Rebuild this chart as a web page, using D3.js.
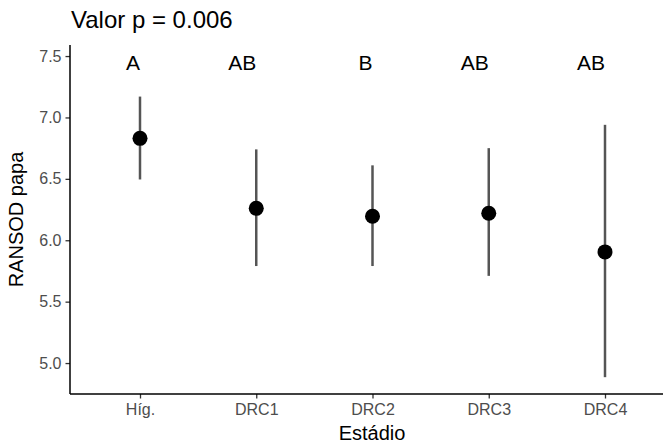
<!DOCTYPE html>
<html>
<head>
<meta charset="utf-8">
<script src="https://cdn.jsdelivr.net/npm/d3@7"></script>
<style>
  body { margin: 0; background: #fff; }
  svg text { font-family: "Liberation Sans", Arial, sans-serif; }
</style>
</head>
<body>
<svg id="chart" width="663" height="445"></svg>
<script>
var categories = ["Híg.", "DRC1", "DRC2", "DRC3", "DRC4"];
var means = [6.83, 6.26, 6.195, 6.22, 5.905];
var lower = [6.495, 5.79, 5.79, 5.71, 4.885];
var upper = [7.17, 6.74, 6.61, 6.75, 6.94];
var letters = ["A", "AB", "B", "AB", "AB"];
var yTicks = [5.0, 5.5, 6.0, 6.5, 7.0, 7.5];

var svg = d3.select("#chart");
var plotLeft = 70, plotRight = 674, plotTop = 45, plotBottom = 394;

var xScale = d3.scalePoint()
  .domain(categories)
  .range([140, 605]);

var yScale = d3.scaleLinear()
  .domain([4.748, 7.59])
  .range([plotBottom, plotTop]);

// axes
var yAxis = d3.axisLeft(yScale)
  .tickValues(yTicks)
  .tickFormat(d3.format(".1f"))
  .tickSize(4.5)
  .tickPadding(4);

var xAxis = d3.axisBottom(xScale)
  .tickSize(4.5)
  .tickPadding(5);

var gy = svg.append("g")
  .attr("transform", "translate(" + plotLeft + ",0)")
  .call(yAxis);
gy.select(".domain").remove();
gy.selectAll("text").attr("fill", "#4d4d4d").style("font-size", "16px");
gy.selectAll("line").attr("stroke", "#333").attr("stroke-width", 1.3);

var gx = svg.append("g")
  .attr("transform", "translate(0," + plotBottom + ")")
  .call(xAxis);
gx.select(".domain").remove();
gx.selectAll("text").attr("fill", "#4d4d4d").style("font-size", "16px");
gx.selectAll("line").attr("stroke", "#333").attr("stroke-width", 1.3);

svg.append("line")
  .attr("x1", plotLeft).attr("x2", plotLeft)
  .attr("y1", plotTop).attr("y2", plotBottom)
  .attr("stroke", "#000").attr("stroke-width", 1.5);
svg.append("line")
  .attr("x1", plotLeft).attr("x2", plotRight)
  .attr("y1", plotBottom).attr("y2", plotBottom)
  .attr("stroke", "#000").attr("stroke-width", 1.5);

// error bars
svg.selectAll(".err")
  .data(categories)
  .enter().append("line")
  .attr("class", "err")
  .attr("x1", function(d) { return xScale(d); })
  .attr("x2", function(d) { return xScale(d); })
  .attr("y1", function(d, i) { return yScale(lower[i]); })
  .attr("y2", function(d, i) { return yScale(upper[i]); })
  .attr("stroke", "#555")
  .attr("stroke-width", 2.5);

// points
svg.selectAll(".pt")
  .data(categories)
  .enter().append("circle")
  .attr("class", "pt")
  .attr("cx", function(d) { return xScale(d); })
  .attr("cy", function(d, i) { return yScale(means[i]); })
  .attr("r", 7.5)
  .attr("fill", "#000");

// group letters, right-aligned on the category
svg.selectAll(".letter")
  .data(categories)
  .enter().append("text")
  .attr("class", "letter")
  .attr("x", function(d) { return xScale(d); })
  .attr("y", 69.5)
  .attr("text-anchor", "end")
  .style("font-size", "21px")
  .attr("fill", "#000")
  .text(function(d, i) { return letters[i]; });

// title and labels
svg.append("text")
  .attr("x", 71)
  .attr("y", 28)
  .style("font-size", "24px")
  .text("Valor p = 0.006");

svg.append("text")
  .attr("x", (plotLeft + plotRight) / 2)
  .attr("y", 440)
  .attr("text-anchor", "middle")
  .style("font-size", "20px")
  .text("Estádio");

svg.append("text")
  .attr("transform", "translate(23," + ((plotTop + plotBottom) / 2) + ") rotate(-90)")
  .attr("text-anchor", "middle")
  .style("font-size", "20px")
  .text("RANSOD papa");
</script>
</body>
</html>
